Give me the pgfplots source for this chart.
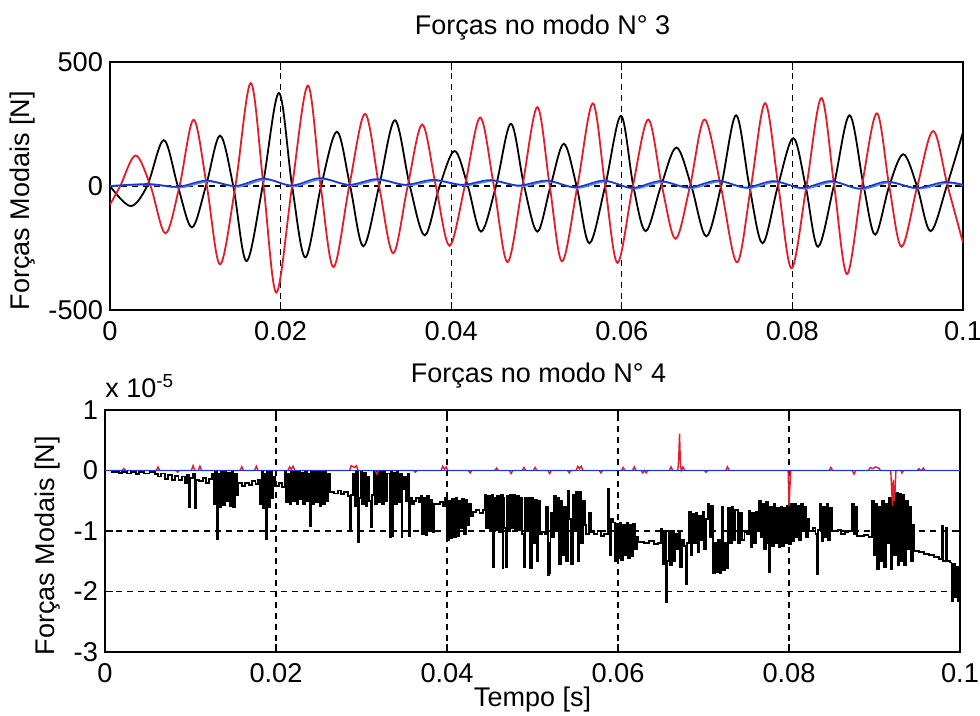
\documentclass[border=0pt]{standalone}
\usepackage{pgfplots}
\pgfplotsset{compat=1.18}
\usepackage{fontspec}
\setmainfont{Liberation Sans}
\definecolor{mred}{RGB}{228,28,40}
\definecolor{mblue}{RGB}{30,55,200}
\definecolor{lblue}{RGB}{80,140,230}
\begin{document}
\begin{tikzpicture}
\useasboundingbox (0,0) rectangle (490pt,-358pt);
\pgfplotsset{
 mystyle/.style={
  scale only axis, xmin=0, xmax=0.1,
  xtick={0,0.02,0.04,0.06,0.08,0.1}, xticklabels={0,0.02,0.04,0.06,0.08,0.1},
  grid=major, major grid style={black, line width=0.55pt, dash pattern=on 3pt off 2.5pt},
  axis line style={line width=0.9pt},
  tick style={black, line width=0.6pt}, major tick length=4pt,
  tick label style={font=\fontsize{13.6}{16}\selectfont},
  xticklabel style={yshift=-2pt},
  label style={font=\fontsize{13.5}{16}\selectfont},
  /pgf/number format/assume math mode=true,
 }
}
% ---------------- top axis ----------------
\begin{axis}[mystyle, name=top, at={(55pt,-31pt)}, anchor=north west,
  width=426.5pt, height=124pt,
  ymin=-500, ymax=500, ytick={-500,0,500}, yticklabels={-500,0,500},
  ylabel={Forças Modais [N]},
  ylabel style={at={(axis description cs:-0.1026,0.44)}, anchor=center},
]
\addplot[black, line width=0.9pt, smooth, tension=0.55] coordinates {
(0,0) (0.0024,-81) (0.00435,0) (0.0063,185) (0.00795,0) (0.0096,-167) (0.01125,0) (0.0129,203) (0.01445,0) (0.0160,-303) (0.0179,0) (0.0198,375) (0.02135,0) (0.0229,-288) (0.02475,0) (0.0266,219) (0.02815,0) (0.0297,-243) (0.03155,0) (0.0334,265) (0.03515,0) (0.0369,-199) (0.03865,0) (0.0404,141) (0.04195,0) (0.0435,-184) (0.04525,0) (0.0470,251) (0.04855,0) (0.0501,-184) (0.05165,0) (0.0532,170) (0.0547,0) (0.0562,-231) (0.05805,0) (0.0599,283) (0.06135,0) (0.0628,-182) (0.0646,0) (0.0664,155) (0.06815,0) (0.0699,-203) (0.07165,0) (0.0734,285) (0.07495,0) (0.0765,-231) (0.0783,0) (0.0801,193) (0.08155,0) (0.0830,-245) (0.08485,0) (0.0867,285) (0.08835,0) (0.0897,-196) (0.09135,0) (0.0930,128) (0.0946,0) (0.0962,-182) (0.0981,0) (0.1,217)
};
\addplot[mred, line width=0.9pt, smooth, tension=0.55] coordinates {
(0,-75) (0.0012,0) (0.0030,123) (0.00475,0) (0.0065,-191) (0.00815,0) (0.0098,267) (0.01135,0) (0.0129,-316) (0.0147,0) (0.0165,415) (0.0180,0) (0.0195,-430) (0.02135,0) (0.0232,405) (0.0247,0) (0.0262,-327) (0.02805,0) (0.0299,291) (0.03155,0) (0.0332,-271) (0.0349,0) (0.0366,248) (0.0382,0) (0.0398,-241) (0.0416,0) (0.0434,276) (0.0450,0) (0.0466,-307) (0.04835,0) (0.0501,318) (0.05155,0) (0.0530,-304) (0.0548,0) (0.0566,333) (0.05805,0) (0.0595,-310) (0.0613,0) (0.0631,268) (0.0647,0) (0.0663,-213) (0.0680,0) (0.0697,268) (0.0716,0) (0.0735,-308) (0.07515,0) (0.0768,334) (0.07835,0) (0.0799,-332) (0.08165,0) (0.0834,355) (0.0849,0) (0.0864,-355) (0.08815,0) (0.0899,293) (0.09135,0) (0.0928,-245) (0.09465,0) (0.0965,222) (0.0982,0) (0.1,-229)
};
\addplot[lblue, line width=0.8pt, smooth] coordinates {
(0,0) (0.0048,5) (0.0083,-6) (0.0116,18) (0.0150,-3) (0.0183,26) (0.0216,-1) (0.0249,28) (0.0283,2) (0.0316,24) (0.0349,2) (0.0382,21) (0.0416,2) (0.0449,20) (0.0482,-1) (0.0515,18) (0.0548,-8) (0.0582,18) (0.0615,-11) (0.0648,16) (0.0681,-9) (0.0715,18) (0.0748,-9) (0.0781,16) (0.0814,-11) (0.0848,16) (0.0881,-13) (0.0914,14) (0.0948,-11) (0.0981,12) (0.1,2)
};
\addplot[mblue, line width=0.8pt, smooth] coordinates {
(0,0) (0.0045,8) (0.0080,-3) (0.0113,22) (0.0147,0) (0.0180,30) (0.0213,2) (0.0246,32) (0.0280,5) (0.0313,28) (0.0346,5) (0.0379,25) (0.0413,5) (0.0446,24) (0.0479,2) (0.0512,22) (0.0545,-5) (0.0579,22) (0.0612,-8) (0.0645,20) (0.0678,-6) (0.0712,22) (0.0745,-6) (0.0778,20) (0.0811,-8) (0.0845,20) (0.0878,-10) (0.0911,18) (0.0945,-8) (0.0978,16) (0.1,5)
};
\end{axis}
\node[anchor=base, inner sep=0pt, font=\fontsize{13.5}{16}\selectfont] at ([xshift=3pt,yshift=13.5pt]top.north) {Forças no modo N° 3};
% ---------------- bottom axis ----------------
\begin{axis}[mystyle, name=bot, at={(52.5pt,-205pt)}, anchor=north west,
  width=427.5pt, height=121pt,
  ymin=-3, ymax=1, ytick={-3,-2,-1,0,1}, yticklabels={-3,-2,-1,0,1},
  ylabel={Forças Modais [N]},
  ylabel style={at={(axis description cs:-0.0667,0.44)}, anchor=center},
  xlabel={Tempo [s]},
  xlabel style={at={(axis description cs:0.5,-0.225)}, anchor=base},
]
\addplot[black, line width=0.95pt, const plot] coordinates {
(0,0) (0.0008,-0.02) (0.0016,-0.04) (0.0020,-0.02) (0.0026,-0.05) (0.0030,-0.03) (0.0036,-0.06) (0.0040,-0.03) (0.0046,-0.05) (0.0052,-0.02) (0.0058,-0.06)
(0.0062,-0.10) (0.0066,-0.05) (0.0070,-0.14) (0.0074,-0.08) (0.0078,-0.15) (0.0082,-0.09) (0.0086,-0.16) (0.0090,-0.10) (0.0094,-0.20) (0.0096,-0.08)
(0.0098,-0.60) (0.0100,-0.12) (0.0103,-0.05) (0.0105,-0.62) (0.0107,-0.15)
(0.0110,-0.18) (0.0115,-0.12) (0.0118,-0.20) (0.0122,-0.14) (0.0125,-0.05)
(0.0127,-0.55) (0.0129,-0.02) (0.0131,-1.14) (0.0132,-0.05) (0.0134,-0.58) (0.0135,-0.60) (0.0136,-0.03) (0.0138,-0.57) (0.0140,-0.02) (0.0142,-0.50) (0.0144,-0.04) (0.0146,-0.58) (0.0148,-0.03) (0.0150,-0.60) (0.0152,-0.05) (0.0154,-0.40) (0.0156,-0.20)
(0.0160,-0.25) (0.0164,-0.20) (0.0168,-0.24) (0.0172,-0.18) (0.0176,-0.22) (0.0179,-0.15)
(0.0181,-0.55) (0.0183,-0.02) (0.0185,-0.62) (0.0186,-0.05) (0.0188,-1.13) (0.0189,-0.03) (0.0191,-0.60) (0.0193,-0.01) (0.0195,-0.45) (0.0197,-0.10)
(0.0199,-0.25) (0.0203,-0.20) (0.0207,-0.28)
(0.0210,-0.02) (0.0212,-0.52) (0.0214,-0.05) (0.0216,-0.55) (0.0218,-0.01) (0.0220,-0.50) (0.0222,-0.03) (0.0224,-0.56) (0.0226,-0.02) (0.0228,-0.48) (0.0230,-0.04) (0.0232,-0.55) (0.0234,-0.02) (0.0236,-0.50) (0.0238,-0.06) (0.0240,-0.92) (0.0241,-0.03) (0.0243,-0.55) (0.0245,-0.02) (0.0247,-0.52) (0.0249,-0.01) (0.0251,-0.58) (0.0253,-0.03) (0.0255,-0.55) (0.0257,-0.02) (0.0259,-0.50) (0.0261,-0.05)
(0.0263,-0.35) (0.0268,-0.38) (0.0272,-0.33) (0.0276,-0.39) (0.0280,-0.36) (0.0284,-0.42)
(0.0287,-1.00) (0.0288,-0.40) (0.0290,-0.05) (0.0292,-0.58) (0.0294,-0.03) (0.0296,-1.19) (0.0297,-0.45) (0.0299,-0.02) (0.0301,-0.55) (0.0303,-0.04) (0.0305,-0.58) (0.0307,-0.10) (0.0309,-0.50) (0.0311,-0.93) (0.0312,-0.40)
(0.0314,-0.02) (0.0316,-0.55) (0.0318,-0.01) (0.0320,-0.52) (0.0322,-0.03) (0.0324,-0.56) (0.0326,-0.02) (0.0328,-0.50) (0.0330,-0.05) (0.0333,-1.10) (0.0334,-0.02) (0.0336,-1.08) (0.0337,-0.04) (0.0339,-0.55) (0.0341,-0.02) (0.0343,-0.52) (0.0345,-0.06) (0.0347,-1.10) (0.0348,-0.30)
(0.0350,-0.10) (0.0352,-0.50) (0.0354,-0.05) (0.0356,-1.08) (0.0357,-0.45) (0.0359,-0.55)
(0.0361,-0.50) (0.0364,-0.45) (0.0367,-0.52)
(0.0369,-0.42) (0.0371,-1.05) (0.0373,-0.45) (0.0375,-1.07) (0.0377,-0.42) (0.0379,-1.00) (0.0381,-0.48) (0.0383,-1.02) (0.0385,-0.55)
(0.0388,-0.55) (0.0392,-0.52) (0.0395,-0.58)
(0.0398,-0.45) (0.0400,-1.15) (0.0402,-0.50) (0.0404,-1.12) (0.0406,-0.47) (0.0408,-1.10) (0.0410,-0.46) (0.0412,-1.08) (0.0414,-0.50) (0.0416,-0.95) (0.0418,-0.47) (0.0420,-1.05) (0.0422,-0.48) (0.0424,-0.90) (0.0426,-0.55) (0.0428,-0.75)
(0.0430,-0.68) (0.0434,-0.66) (0.0438,-0.70) (0.0442,-0.65)
(0.0444,-0.40) (0.0446,-0.95) (0.0448,-0.42) (0.0450,-1.00) (0.0452,-0.40) (0.0454,-1.60) (0.0455,-0.45) (0.0457,-0.98) (0.0459,-0.42) (0.0461,-1.02) (0.0463,-0.40) (0.0465,-1.62) (0.0466,-0.45) (0.0467,-0.95) (0.0469,-1.60) (0.0470,-0.42) (0.0472,-1.00) (0.0474,-0.41) (0.0476,-0.95) (0.0478,-0.40) (0.0480,-1.00) (0.0482,-0.42) (0.0484,-0.98) (0.0486,-0.45) (0.0488,-1.05) (0.0490,-1.60) (0.0491,-0.45) (0.0493,-1.00) (0.0495,-0.45)
(0.0497,-1.62) (0.0499,-0.45) (0.0501,-1.20) (0.0503,-0.48) (0.0505,-1.50) (0.0507,-0.50) (0.0509,-1.05)
(0.0511,-1.02) (0.0514,-1.05)
(0.0516,-0.60) (0.0518,-1.73) (0.0519,-1.20) (0.0520,-1.70) (0.0521,-0.70) (0.0523,-1.10) (0.0525,-0.42) (0.0527,-1.00) (0.0529,-0.45) (0.0531,-1.55) (0.0533,-0.50) (0.0535,-1.40) (0.0537,-0.60)
(0.0539,-1.50) (0.0541,-0.34) (0.0543,-0.80) (0.0545,-1.54) (0.0547,-0.40) (0.0549,-1.00) (0.0551,-0.35) (0.0553,-1.50) (0.0555,-0.36) (0.0557,-1.20) (0.0559,-0.50) (0.0561,-0.90)
(0.0563,-1.05) (0.0566,-0.70) (0.0568,-1.02) (0.0572,-1.05) (0.0576,-1.00) (0.0580,-1.08) (0.0584,-1.05)
(0.0588,-0.31) (0.0590,-1.40) (0.0592,-0.80)
(0.0594,-0.86) (0.0596,-1.49) (0.0598,-0.88) (0.0600,-1.45) (0.0602,-0.86) (0.0604,-1.48) (0.0606,-0.90) (0.0608,-1.40) (0.0610,-0.86) (0.0612,-1.45) (0.0614,-0.90) (0.0616,-1.42) (0.0618,-0.88) (0.0620,-1.30) (0.0622,-1.10)
(0.0624,-1.18) (0.0630,-1.20) (0.0636,-1.17) (0.0642,-1.22) (0.0647,-1.20)
(0.0650,-0.97) (0.0652,-1.55) (0.0654,-1.00) (0.0656,-2.17) (0.0657,-1.50) (0.0659,-1.00) (0.0661,-1.57) (0.0663,-1.00) (0.0665,-1.50)
(0.0667,-1.05) (0.0669,-1.30) (0.0671,-1.00) (0.0673,-1.60) (0.0675,-1.15) (0.0677,-1.25) (0.0680,-1.87) (0.0681,-1.20)
(0.0683,-0.69) (0.0685,-1.40) (0.0687,-0.72) (0.0689,-1.20) (0.0691,-0.70) (0.0693,-1.35) (0.0695,-0.75) (0.0697,-1.15) (0.0699,-0.69) (0.0701,-1.30) (0.0703,-0.80)
(0.0705,-0.56) (0.0707,-1.10) (0.0709,-0.58) (0.0711,-1.70) (0.0713,-1.20) (0.0715,-1.68) (0.0717,-1.15) (0.0719,-1.70) (0.0721,-0.60) (0.0723,-1.65) (0.0725,-1.20) (0.0727,-1.62)
(0.0729,-0.62) (0.0731,-1.20) (0.0733,-0.60) (0.0735,-1.15) (0.0737,-0.65) (0.0740,-1.20) (0.0743,-0.70) (0.0745,-1.15)
(0.0748,-1.02) (0.0751,-1.05) (0.0753,-0.67) (0.0755,-1.27) (0.0757,-0.70) (0.0759,-1.20) (0.0761,-0.68) (0.0763,-1.00)
(0.0765,-0.51) (0.0767,-1.10) (0.0769,-0.55) (0.0771,-1.30) (0.0773,-0.52) (0.0775,-1.20) (0.0777,-1.68) (0.0778,-0.60) (0.0780,-1.25) (0.0782,-0.55) (0.0784,-1.20)
(0.0786,-0.62) (0.0788,-1.27) (0.0790,-0.60) (0.0792,-1.25) (0.0794,-0.62) (0.0796,-1.20) (0.0798,-0.58) (0.0800,-1.22) (0.0802,-0.56) (0.0804,-1.16) (0.0806,-0.56) (0.0808,-1.10) (0.0810,-0.58) (0.0812,-1.15) (0.0814,-0.56) (0.0816,-1.00) (0.0818,-0.60) (0.0820,-1.10) (0.0822,-0.80)
(0.0824,-1.00) (0.0828,-0.95) (0.0831,-1.05) (0.0833,-1.71) (0.0834,-0.98)
(0.0836,-0.56) (0.0838,-1.16) (0.0840,-0.60) (0.0842,-1.10) (0.0844,-0.56) (0.0846,-1.15) (0.0848,-0.62) (0.0850,-1.00)
(0.0852,-1.00) (0.0857,-0.98) (0.0861,-1.05) (0.0865,-1.02) (0.0869,-1.00)
(0.0874,-0.56) (0.0876,-1.05) (0.0877,-0.60) (0.0879,-1.08)
(0.0883,-1.08) (0.0888,-1.06) (0.0893,-1.10)
(0.0897,-0.51) (0.0899,-1.40) (0.0901,-0.55) (0.0903,-1.63) (0.0905,-0.60) (0.0907,-1.50) (0.0909,-0.51) (0.0911,-1.60) (0.0913,-0.55) (0.0915,-1.20) (0.0917,-0.45) (0.0919,-1.63) (0.0921,-0.50) (0.0923,-1.40)
(0.0925,-0.37) (0.0927,-1.57) (0.0929,-0.38) (0.0931,-1.50) (0.0933,-0.40) (0.0935,-1.57) (0.0937,-0.50) (0.0939,-1.30) (0.0941,-0.60) (0.0943,-1.50) (0.0945,-0.90)
(0.0946,-1.33) (0.0952,-1.35) (0.0958,-1.38) (0.0964,-1.40) (0.0970,-1.43) (0.0975,-1.47)
(0.0979,-0.92) (0.0980,-1.50) (0.0984,-0.95) (0.0985,-1.50) (0.0988,-1.52)
(0.0990,-2.15) (0.0992,-1.55) (0.0994,-2.10) (0.0996,-1.60) (0.0998,-2.15) (0.1000,-1.80)
};
\addplot[mred, line width=0.7pt] coordinates {
(0,0)
(0.0020,0)(0.0022,0.03)(0.0024,0)
(0.0060,0)(0.0062,0.06)(0.0064,0)
(0.0083,0)(0.0085,-0.03)(0.0087,0)
(0.0101,0)(0.0103,0.08)(0.0105,0)
(0.0109,0)(0.0111,0.07)(0.0113,0)
(0.0158,0)(0.0160,0.06)(0.0162,0)
(0.0175,0)(0.0177,0.07)(0.0179,0)
(0.0214,0)(0.0216,0.06)(0.0218,0.02)(0.0220,0.07)(0.0222,0)
(0.0286,0)(0.0288,0.08)(0.0292,0.05)(0.0294,0.08)(0.0296,0)
(0.0316,0)(0.0318,-0.06)(0.0320,0)
(0.0361,0)(0.0363,-0.03)(0.0365,0)
(0.0393,0)(0.0395,0.07)(0.0397,0.02)(0.0399,0.06)(0.0401,0)
(0.0425,0)(0.0427,-0.04)(0.0429,0)
(0.0456,0)(0.0458,0.04)(0.0460,0)
(0.0473,0)(0.0475,-0.05)(0.0477,0)
(0.0488,0)(0.0490,0.05)(0.0492,0)
(0.0501,0)(0.0503,0.05)(0.0505,0)
(0.0518,0)(0.0520,-0.05)(0.0522,0)
(0.0541,0)(0.0543,-0.04)(0.0545,0)
(0.0551,0)(0.0553,0.07)(0.0555,0.03)(0.0557,0.07)(0.0559,0)
(0.0578,0)(0.0580,-0.04)(0.0582,0)
(0.0604,0)(0.0606,0.05)(0.0608,0)
(0.0617,0)(0.0619,0.06)(0.0621,0)
(0.0627,0)(0.0629,-0.04)(0.0631,0)(0.0633,-0.04)(0.0635,0)
(0.0660,0)(0.0662,0.06)(0.0664,0)
(0.0670,0)(0.0671,0.20)(0.0672,0.61)(0.0673,0.10)(0.0674,0)(0.0676,0.06)(0.0678,0)
(0.0701,0)(0.0703,-0.03)(0.0705,0)
(0.0726,0)(0.0728,0.06)(0.0730,0)
(0.0799,0)(0.0800,-0.59)(0.0801,-0.30)(0.0802,0)
(0.0847,0)(0.0849,0.05)(0.0851,0)
(0.0874,0)(0.0876,-0.06)(0.0878,0)
(0.0893,0)(0.0895,0.05)(0.0898,0.03)(0.0901,0.06)(0.0905,0.04)(0.0907,0)
(0.0919,0)(0.0920,-0.30)(0.0921,-0.58)(0.0922,-0.15)(0.0923,-0.50)(0.0924,-0.35)(0.0925,0)
(0.0931,0)(0.0932,-0.04)(0.0934,0)
(0.0950,0)(0.0952,0.03)(0.0954,0)
(0.0955,0)(0.0957,0.04)(0.0959,0)
(0.1,0)
};
\addplot[mblue, line width=0.8pt] coordinates {(0,0) (0.1,0)};
\end{axis}
\node[anchor=base, inner sep=0pt, font=\fontsize{13.5}{16}\selectfont] at ([xshift=3pt,yshift=13.5pt]bot.north) {Forças no modo N° 4};
\node[anchor=base west, inner sep=0pt, font=\fontsize{13.5}{15}\selectfont] at ([yshift=6pt]bot.north west) {x 10\textsuperscript{-5}};
\end{tikzpicture}
\end{document}
